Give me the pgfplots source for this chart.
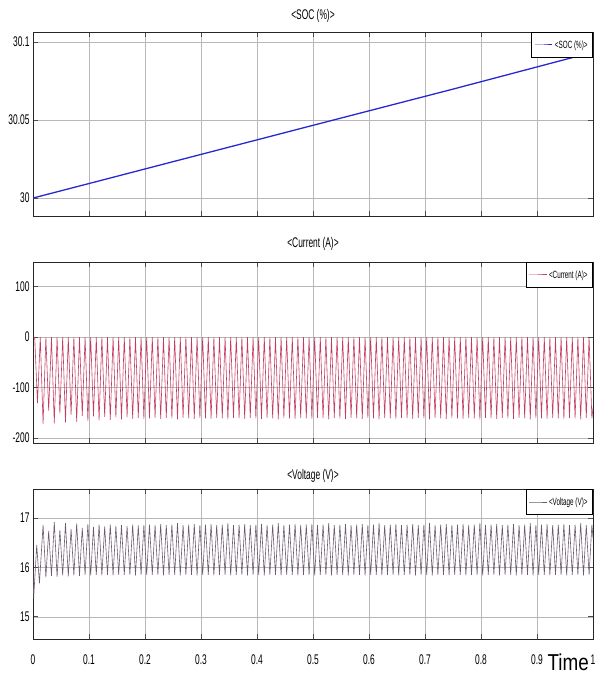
\documentclass[border=0pt]{standalone}
\usepackage{fontspec}
\setmainfont{Liberation Sans}[FakeStretch=0.6]
\newfontfamily\timefont{Liberation Sans}[FakeStretch=0.82]
\usepackage{pgfplots}
\pgfplotsset{compat=1.18}

\definecolor{socblue}{RGB}{40,40,210}
\definecolor{curred}{RGB}{195,60,100}
\definecolor{voltgray}{RGB}{110,90,110}

\newcommand\tickfont{\fontsize{14}{16}\selectfont}
\newcommand\titlefont{\fontsize{14}{16}\selectfont}
\newcommand\legfont{\fontsize{10.5}{11}\selectfont}

\pgfplotsset{
  simscope/.style={
    scale only axis, width=560pt, anchor=south west,
    xmin=0, xmax=1,
    xtick={0,0.1,0.2,0.3,0.4,0.5,0.6,0.7,0.8,0.9,1},
    grid=major, grid style={black!28, line width=0.5pt},
    axis line style={black!85, line width=0.9pt},
    tick style={black!70, line width=0.6pt}, major tick length=5pt,
    ticklabel style={font=\tickfont},
    title style={font=\titlefont, at={(0.5,1)}, anchor=south, inner sep=0pt},
    legend style={at={(1,1)}, anchor=north east, draw=black, line width=0.9pt,
      font=\legfont, inner xsep=3pt, inner ysep=6pt, row sep=0pt},
    legend image post style={line width=1pt},
    legend cell align=left,
  }
}

\begin{document}
\begin{tikzpicture}
\useasboundingbox (0,0) rectangle (599pt,677pt);

% SOC
\begin{axis}[simscope, at={(33pt,461pt)}, height=184pt,
  ymin=29.9885, ymax=30.1064,
  ytick={30,30.05,30.1}, yticklabels={30,30.05,30.1},
  xticklabels={},
  title={<SOC (\%)>}, title style={yshift=3pt}]
\addplot[socblue, line width=1.3pt] coordinates {
  (0,30) (0.1,30.0093) (0.25,30.0233) (0.5,30.0466) (0.75,30.0698) (0.96,30.0897) (1,30.0932)
};
\legend{<SOC (\%)>}
\end{axis}

% Current
\begin{axis}[simscope, at={(33pt,234pt)}, height=181pt,
  ymin=-210, ymax=149,
  ytick={-200,-100,0,100}, yticklabels={-200,-100,0,100},
  xticklabels={},
  title={<Current (A)>}, title style={yshift=5pt}]
\addplot[curred, line width=0.6pt] coordinates {
(0,0) (0.003,0)
(0.008,-131) (0.013,0) (0.018,-172) (0.023,0) (0.028,-146) (0.033,0) (0.038,-171) (0.043,0)
(0.048,-151) (0.053,0) (0.058,-169) (0.063,0) (0.068,-154) (0.073,0) (0.078,-168) (0.083,0)
(0.088,-156) (0.093,0) (0.098,-166) (0.103,0)
(0.108,-157) (0.113,0) (0.118,-165) (0.123,0) (0.128,-158) (0.133,0) (0.138,-164) (0.143,0)
(0.148,-159) (0.153,0) (0.158,-163) (0.163,0) (0.168,-159) (0.173,0) (0.178,-162) (0.183,0)
(0.188,-160) (0.193,0) (0.198,-162) (0.203,0)
(0.208,-161) (0.213,0) (0.218,-160) (0.223,0) (0.228,-162) (0.233,0) (0.238,-160) (0.243,0)
(0.248,-161) (0.253,0) (0.258,-163) (0.263,0) (0.268,-160) (0.273,0) (0.278,-161) (0.283,0)
(0.288,-162) (0.293,0) (0.298,-160) (0.303,0)
(0.308,-161) (0.313,0) (0.318,-162) (0.323,0) (0.328,-160) (0.333,0) (0.338,-161) (0.343,0)
(0.348,-163) (0.353,0) (0.358,-160) (0.363,0) (0.368,-161) (0.373,0) (0.378,-162) (0.383,0)
(0.388,-160) (0.393,0) (0.398,-161) (0.403,0)
(0.408,-162) (0.413,0) (0.418,-160) (0.423,0) (0.428,-161) (0.433,0) (0.438,-163) (0.443,0)
(0.448,-160) (0.453,0) (0.458,-161) (0.463,0) (0.468,-162) (0.473,0) (0.478,-160) (0.483,0)
(0.488,-161) (0.493,0) (0.498,-162) (0.503,0)
(0.508,-160) (0.513,0) (0.518,-161) (0.523,0) (0.528,-163) (0.533,0) (0.538,-160) (0.543,0)
(0.548,-161) (0.553,0) (0.558,-162) (0.563,0) (0.568,-160) (0.573,0) (0.578,-161) (0.583,0)
(0.588,-162) (0.593,0) (0.598,-160) (0.603,0)
(0.608,-161) (0.613,0) (0.618,-163) (0.623,0) (0.628,-160) (0.633,0) (0.638,-161) (0.643,0)
(0.648,-162) (0.653,0) (0.658,-160) (0.663,0) (0.668,-161) (0.673,0) (0.678,-162) (0.683,0)
(0.688,-160) (0.693,0) (0.698,-161) (0.703,0)
(0.708,-163) (0.713,0) (0.718,-160) (0.723,0) (0.728,-161) (0.733,0) (0.738,-162) (0.743,0)
(0.748,-160) (0.753,0) (0.758,-161) (0.763,0) (0.768,-162) (0.773,0) (0.778,-160) (0.783,0)
(0.788,-161) (0.793,0) (0.798,-163) (0.803,0)
(0.808,-160) (0.813,0) (0.818,-161) (0.823,0) (0.828,-162) (0.833,0) (0.838,-160) (0.843,0)
(0.848,-161) (0.853,0) (0.858,-162) (0.863,0) (0.868,-160) (0.873,0) (0.878,-161) (0.883,0)
(0.888,-163) (0.893,0) (0.898,-160) (0.903,0)
(0.908,-161) (0.913,0) (0.918,-162) (0.923,0) (0.928,-160) (0.933,0) (0.938,-161) (0.943,0)
(0.948,-162) (0.953,0) (0.958,-160) (0.963,0) (0.968,-161) (0.973,0) (0.978,-163) (0.983,0)
(0.988,-160) (0.993,0) (0.998,-161) (1.0,-140)
};
\legend{<Current (A)>}
\end{axis}

% Voltage
\begin{axis}[simscope, at={(33pt,38pt)}, height=150pt,
  ymin=14.55, ymax=17.59,
  ytick={15,16,17}, yticklabels={15,16,17},
  xticklabels={0,0.1,0.2,0.3,0.4,0.5,0.6,0.7,0.8,0.9,1},
  xticklabel style={yshift=-12pt},
  title={<Voltage (V)>}, title style={yshift=0pt},
  xlabel={\timefont Time},
  xlabel style={at={(rel axis cs:1,0)}, anchor=north east, inner sep=0pt,
    xshift=-4pt, yshift=-15pt, font=\fontsize{23}{25}\selectfont}]
\addplot[voltgray, line width=0.6pt] coordinates {
(0,15.95) (0.0012,15.38) (0.0066,16.45) (0.0115,15.68)
(0.018,16.86) (0.023,15.80) (0.028,16.74) (0.033,15.83) (0.038,16.92) (0.043,15.81)
(0.048,16.76) (0.053,15.84) (0.058,16.90) (0.063,15.82) (0.068,16.78) (0.073,15.84)
(0.078,16.89) (0.083,15.83) (0.088,16.80) (0.093,15.85) (0.098,16.88) (0.103,15.84)
(0.108,16.82) (0.113,15.85) (0.118,16.87) (0.123,15.84) (0.128,16.83) (0.133,15.85)
(0.138,16.87) (0.143,15.84) (0.148,16.84) (0.153,15.85) (0.158,16.86) (0.163,15.85)
(0.168,16.84) (0.173,15.85) (0.178,16.87) (0.183,15.84) (0.188,16.85) (0.193,15.85)
(0.198,16.86) (0.203,15.85)
(0.208,16.87) (0.213,15.85) (0.218,16.86) (0.223,15.85) (0.228,16.88) (0.233,15.84) (0.238,16.86) (0.243,15.85)
(0.248,16.87) (0.253,15.85) (0.258,16.90) (0.263,15.84) (0.268,16.86) (0.273,15.85) (0.278,16.87) (0.283,15.85)
(0.288,16.88) (0.293,15.84) (0.298,16.86) (0.303,15.85)
(0.308,16.87) (0.313,15.85) (0.318,16.88) (0.323,15.84) (0.328,16.86) (0.333,15.85) (0.338,16.87) (0.343,15.85)
(0.348,16.90) (0.353,15.84) (0.358,16.86) (0.363,15.85) (0.368,16.87) (0.373,15.85) (0.378,16.88) (0.383,15.84)
(0.388,16.86) (0.393,15.85) (0.398,16.87) (0.403,15.85)
(0.408,16.88) (0.413,15.84) (0.418,16.86) (0.423,15.85) (0.428,16.87) (0.433,15.85) (0.438,16.90) (0.443,15.84)
(0.448,16.86) (0.453,15.85) (0.458,16.87) (0.463,15.85) (0.468,16.88) (0.473,15.84) (0.478,16.86) (0.483,15.85)
(0.488,16.87) (0.493,15.85) (0.498,16.88) (0.503,15.84)
(0.508,16.86) (0.513,15.85) (0.518,16.87) (0.523,15.85) (0.528,16.90) (0.533,15.84) (0.538,16.86) (0.543,15.85)
(0.548,16.87) (0.553,15.85) (0.558,16.88) (0.563,15.84) (0.568,16.86) (0.573,15.85) (0.578,16.87) (0.583,15.85)
(0.588,16.88) (0.593,15.84) (0.598,16.86) (0.603,15.85)
(0.608,16.87) (0.613,15.85) (0.618,16.90) (0.623,15.84) (0.628,16.86) (0.633,15.85) (0.638,16.87) (0.643,15.85)
(0.648,16.88) (0.653,15.84) (0.658,16.86) (0.663,15.85) (0.668,16.87) (0.673,15.85) (0.678,16.88) (0.683,15.84)
(0.688,16.86) (0.693,15.85) (0.698,16.87) (0.703,15.85)
(0.708,16.90) (0.713,15.84) (0.718,16.86) (0.723,15.85) (0.728,16.87) (0.733,15.85) (0.738,16.88) (0.743,15.84)
(0.748,16.86) (0.753,15.85) (0.758,16.87) (0.763,15.85) (0.768,16.88) (0.773,15.84) (0.778,16.86) (0.783,15.85)
(0.788,16.87) (0.793,15.85) (0.798,16.90) (0.803,15.84)
(0.808,16.86) (0.813,15.85) (0.818,16.87) (0.823,15.85) (0.828,16.88) (0.833,15.84) (0.838,16.86) (0.843,15.85)
(0.848,16.87) (0.853,15.85) (0.858,16.88) (0.863,15.84) (0.868,16.86) (0.873,15.85) (0.878,16.87) (0.883,15.85)
(0.888,16.90) (0.893,15.84) (0.898,16.86) (0.903,15.85)
(0.908,16.87) (0.913,15.85) (0.918,16.88) (0.923,15.84) (0.928,16.86) (0.933,15.85) (0.938,16.87) (0.943,15.85)
(0.948,16.88) (0.953,15.84) (0.958,16.86) (0.963,15.85) (0.968,16.87) (0.973,15.85) (0.978,16.90) (0.983,15.84)
(0.988,16.86) (0.993,15.85) (0.998,16.87) (1.0,16.6)
};
\legend{<Voltage (V)>}
\end{axis}
\end{tikzpicture}
\end{document}
